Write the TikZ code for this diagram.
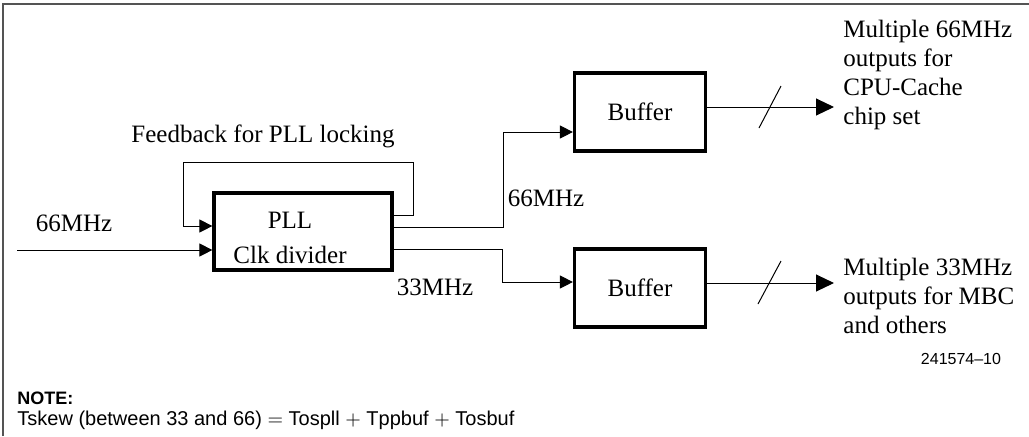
\documentclass[tikz,border=0pt]{standalone}
\usepackage{fontspec}
\setmainfont{Liberation Serif}
\setsansfont{Liberation Sans}
\usetikzlibrary{arrows.meta}
\definecolor{framegray}{rgb}{0.33, 0.33, 0.33}

\begin{document}
\begin{tikzpicture}[
        x=0.5pt, y=-0.5pt,
        >={Triangle[length=6.5pt,width=6.5pt]},
        block/.style={draw, line width=1.6pt, inner sep=0pt,
        	minimum width=65.5pt, minimum height=39pt, font=\fontsize{12.5}{14}\selectfont},
        sig/.style={line width=0.5pt},
        outsig/.style={line width=0.5pt, -{Triangle[length=9pt,width=8.5pt]}},
        lbl/.style={font=\fontsize{12.5}{14}\selectfont, inner sep=0pt},
        outtext/.style={lbl, anchor=west, align=left,
        	font=\fontsize{12.5}{14.5}\selectfont},
        note/.style={font=\sffamily\fontsize{10}{12}\selectfont, inner sep=0pt, anchor=west},
        frame/.style={draw=framegray, line width=1pt}
    ]
    \useasboundingbox (0,0) rectangle (1029,436);

    %frame
    \draw[frame] (3,436) -- (3,4) -- (1029,4);

    %blocks
    \node[block, minimum width=89pt, minimum height=38.5pt] (pll) at (303,231.5) {};
    \node[lbl, align=center, font=\fontsize{12.5}{17.5}\selectfont] (plltext) at (290,238) {PLL\\Clk divider};
    \node[block] (buf1) at (640,112) {Buffer};
    \node[block] (buf2) at (640,288) {Buffer};

    %input and feedback
    \coordinate (in) at (17,250);
    \coordinate (fbr) at (413,215);
    \coordinate (fbtop) at (183,162);
    \coordinate (fbl) at (183,226);
    \draw[sig,->] (in) -- (in -| pll.west);
    \draw[sig,->] (pll.east |- fbr) -- (fbr) |- (fbtop) -- (fbl) -- (fbl -| pll.west);

    %pll outputs to the buffers
    \coordinate (s66) at (503,132);
    \coordinate (s33) at (502,282);
    \draw[sig,->] (pll.east |- 0,227) -| (s66) -- (s66 -| buf1.west);
    \draw[sig,->] (pll.east |- 0,249) -| (s33) -- (s33 -| buf2.west);

    %buffer outputs
    \coordinate (o66) at (834,107);
    \coordinate (o33) at (834,283);
    \draw[outsig] (buf1.east |- o66) -- (o66);
    \draw[outsig] (buf2.east |- o33) -- (o33);
    \draw[sig] (759,128) -- (781,86);
    \draw[sig] (758,304) -- (781,261);

    %labels
    \node[lbl] (fblabel) at (263,136) {Feedback for PLL locking};
    \node[lbl] (inlabel) at (74,223) {66MHz};
    \node[lbl] (l66) at (546,198) {66MHz};
    \node[lbl] (l33) at (435,287) {33MHz};
    \node[outtext] (t66) at (843,75) {Multiple 66MHz\\outputs for\\CPU-Cache\\chip set};
    \node[outtext] (t33) at (843,296) {Multiple 33MHz\\outputs for MBC\\and others};
    \node[note, anchor=center, font=\sffamily\fontsize{8}{10}\selectfont] (figno) at (961,359) {241574--10};

    %note
    \node[note, font=\sffamily\bfseries\fontsize{9}{11}\selectfont] (notehead) at (17,398) {NOTE:};
    \node[note] (notetext) at (17,420) {Tskew (between 33 and 66) $=$ Tospll $+$ Tppbuf $+$ Tosbuf};
\end{tikzpicture}
\end{document}
